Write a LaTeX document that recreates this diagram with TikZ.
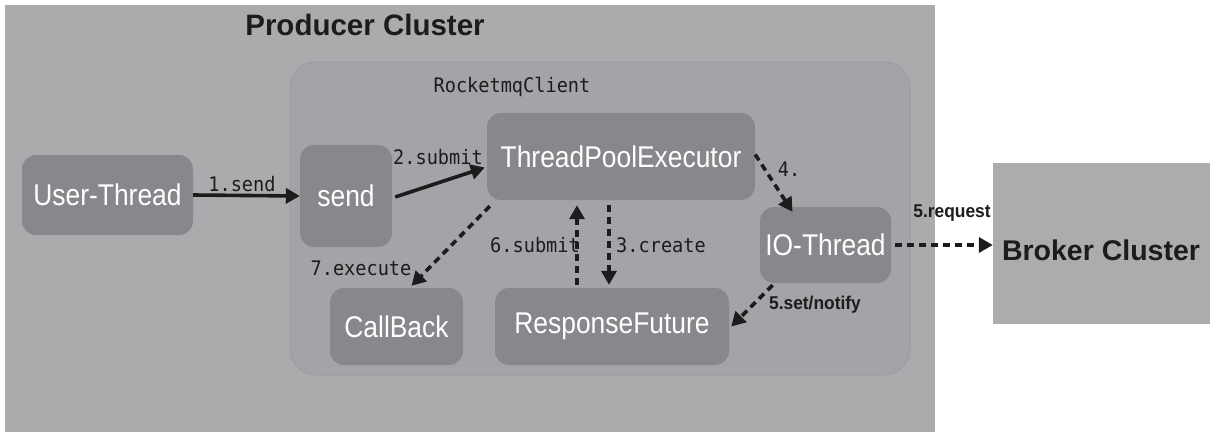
\documentclass[tikz,border=0pt]{standalone}
\usepackage{fontspec}
\setmainfont{Liberation Sans}
\newfontfamily\monof[FakeStretch=0.93]{DejaVu Sans Mono}
\newfontfamily\boxf[FakeStretch=0.88]{Liberation Sans}
\newfontfamily\lblf[FakeStretch=0.94]{Liberation Sans}
\usetikzlibrary{arrows.meta,calc}
\definecolor{outerc}{HTML}{AAABAD}
\definecolor{innerc}{HTML}{A3A4A7}
\definecolor{inneredge}{HTML}{9C9DA0}
\definecolor{boxc}{HTML}{87888B}
\definecolor{brokerc}{HTML}{ABACAE}
\definecolor{inkc}{HTML}{1C1C1C}
\tikzset{
  box/.style={fill=boxc, rounded corners=14pt, text=white, inner sep=0pt,
    font=\boxf\fontsize{30}{34}\selectfont},
  lbl/.style={text=inkc, inner sep=0pt, font=\monof\fontsize{20}{24}\selectfont},
  blbl/.style={text=inkc, inner sep=0pt, font=\lblf\bfseries\fontsize{18.5}{22}\selectfont},
  conn/.style={draw=inkc, line width=3.6pt, -{Triangle[length=14pt,width=15pt]}},
  dconn/.style={conn, dash pattern=on 7pt off 5pt},
}
\begin{document}
\begin{tikzpicture}[x=1pt,y=-1pt]
\useasboundingbox (0,0) rectangle (1216,439);
\fill[white] (0,0) rectangle (1216,439);
% containers
\fill[outerc] (5,5) rectangle (935,432);
\node[text=inkc, inner sep=0pt, font=\bfseries\fontsize{29.5}{33}\selectfont] (title) at (365,25) {Producer Cluster};
\filldraw[fill=innerc, draw=inneredge, line width=1pt, rounded corners=26pt] (290,62) rectangle (910,375);
\node[lbl] (client) at (512,87) {RocketmqClient};
% boxes
\node[box, minimum width=171pt, minimum height=80pt] (ut) at (107.5,195) {User-Thread};
\node[box, minimum width=92pt, minimum height=102pt] (snd) at (346,196) {send};
\node[box, minimum width=268pt, minimum height=87pt] (tpe) at (621,156.5) {ThreadPoolExecutor};
\node[box, minimum width=131pt, minimum height=76pt] (io) at (825.5,245) {IO-Thread};
\node[box, minimum width=133pt, minimum height=77pt] (cb) at (396.5,326.5) {CallBack};
\node[box, minimum width=234pt, minimum height=77pt] (rf) at (612,326.5) {ResponseFuture};
\node[fill=brokerc, minimum width=217pt, minimum height=161pt, inner sep=0pt] (bk) at (1101.5,243.5) {};
\node[text=inkc, inner sep=0pt, font=\bfseries\fontsize{28.5}{32}\selectfont] (bktxt) at (1101,250) {Broker Cluster};
% connectors
\draw[conn] (ut.east) -- (snd.west);
\node[lbl] (l1) at (242,184) {1.send};
\draw[conn] ([xshift=3pt,yshift=-1pt]snd.east) -- ([xshift=-2pt,yshift=-11pt]tpe.west);
\node[lbl] (l2) at (438,157) {2.submit};
\draw[dconn] ([yshift=2pt]tpe.east) -- ([xshift=-33pt,yshift=-5pt]io.north);
\node[lbl] (l4) at (789,169) {4.};
\draw[dconn] ([xshift=4pt]io.east) -- (bk.west |- io.east);
\node[blbl] (l5) at (952,213) {5.request};
\draw[dconn] ([xshift=-53pt,yshift=-2pt]io.south) -- ([xshift=2pt]rf.east);
\node[blbl] (l5b) at (815,305) {5.set/notify};
\coordinate (c3a) at ([xshift=-12pt,yshift=-5pt]tpe.south);
\coordinate (c3b) at ([xshift=-2pt,yshift=3pt]rf.north);
\draw[dconn] (c3a) -- (c3a |- c3b);
\node[lbl] (l3) at (661,245) {3.create};
\coordinate (c6a) at ([xshift=-35pt,yshift=3pt]rf.north);
\draw[dconn] (c6a) -- (c6a |- c3a);
\node[lbl] (l6) at (535,245) {6.submit};
\draw[dconn] ([xshift=3pt,yshift=-6pt]tpe.south west) -- ([xshift=15pt,yshift=2pt]cb.north);
\node[lbl] (l7) at (361,268) {7.execute};
\end{tikzpicture}
\end{document}
